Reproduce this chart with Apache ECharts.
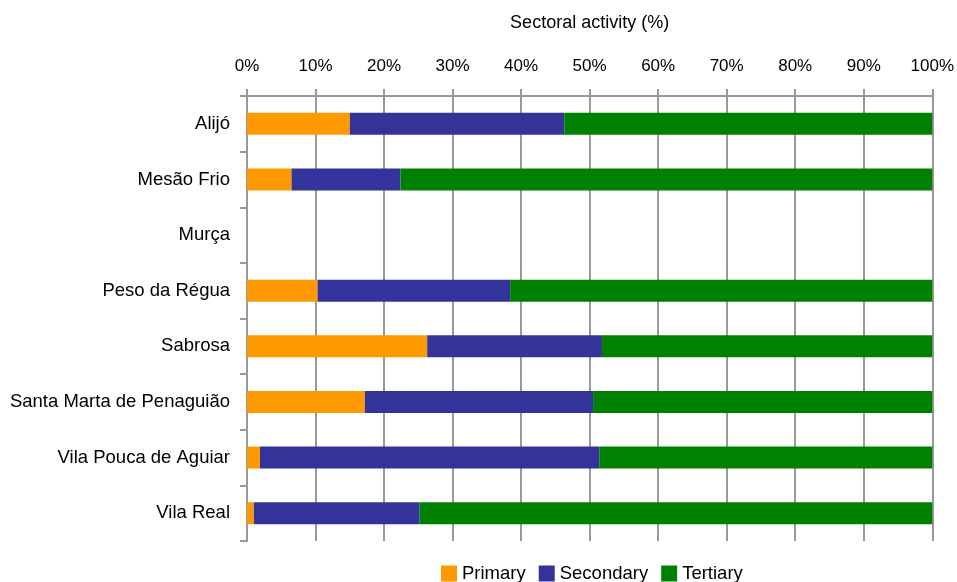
<!DOCTYPE html>
<html>
<head>
<meta charset="utf-8">
<script src="https://cdn.jsdelivr.net/npm/echarts@6/dist/echarts.min.js"></script>
<style>html,body{margin:0;padding:0;background:#fff}#c{width:957px;height:582px}</style>
</head>
<body>
<div id="c"></div>
<script>
const categories = ["Alijó", "Mesão Frio", "Murça", "Peso da Régua", "Sabrosa", "Santa Marta de Penaguião", "Vila Pouca de Aguiar", "Vila Real"];
const primary   = [15.0, 6.5, null, 10.3, 26.3, 17.2, 1.9, 1.0];
const secondary = [31.3, 15.9, null, 28.1, 25.5, 33.3, 49.5, 24.2];
const tertiary  = [53.7, 77.6, null, 61.6, 48.2, 49.5, 48.6, 74.8];
const xTicks = [0, 10, 20, 30, 40, 50, 60, 70, 80, 90, 100];

const FONT = "Liberation Sans";
const chart = echarts.init(document.getElementById('c'));
const mk = (name, data, color) => ({
  name, type: 'bar', stack: 'total', data, barWidth: 22,
  itemStyle: { color }, emphasis: { disabled: true }
});
chart.setOption({
  animation: false,
  textStyle: { fontFamily: FONT },
  grid: { left: 247, right: 24, top: 96, bottom: 41, containLabel: false },
  legend: {
    bottom: -6, left: 436, itemWidth: 16, itemHeight: 16, itemGap: 13,
    icon: 'rect',
    textStyle: { fontFamily: FONT, fontSize: 18.5, color: '#000' },
    data: ['Primary', 'Secondary', 'Tertiary']
  },
  xAxis: {
    type: 'value', position: 'top', min: xTicks[0], max: xTicks[xTicks.length - 1], interval: 10,
    name: 'Sectoral activity (%)', nameLocation: 'middle', nameGap: 64,
    nameTextStyle: { fontFamily: FONT, fontSize: 18, color: '#000' },
    axisLine: { show: true, lineStyle: { color: '#999', width: 2 } },
    axisTick: { show: true, length: 7, lineStyle: { color: '#999', width: 2 } },
    axisLabel: { formatter: '{value}%', fontFamily: FONT, fontSize: 17, color: '#000', margin: 21 },
    splitLine: { show: true, lineStyle: { color: '#999', width: 2 } }
  },
  yAxis: {
    type: 'category', data: categories, inverse: true,
    axisLine: { show: true, lineStyle: { color: '#999', width: 2 } },
    axisTick: { show: true, length: 7, lineStyle: { color: '#999', width: 2 } },
    axisLabel: { fontFamily: FONT, fontSize: 18.5, color: '#000', margin: 17 }
  },
  series: [
    mk('Primary', primary, '#FF9900'),
    mk('Secondary', secondary, '#333399'),
    mk('Tertiary', tertiary, '#008000')
  ]
});
</script>
</body>
</html>
